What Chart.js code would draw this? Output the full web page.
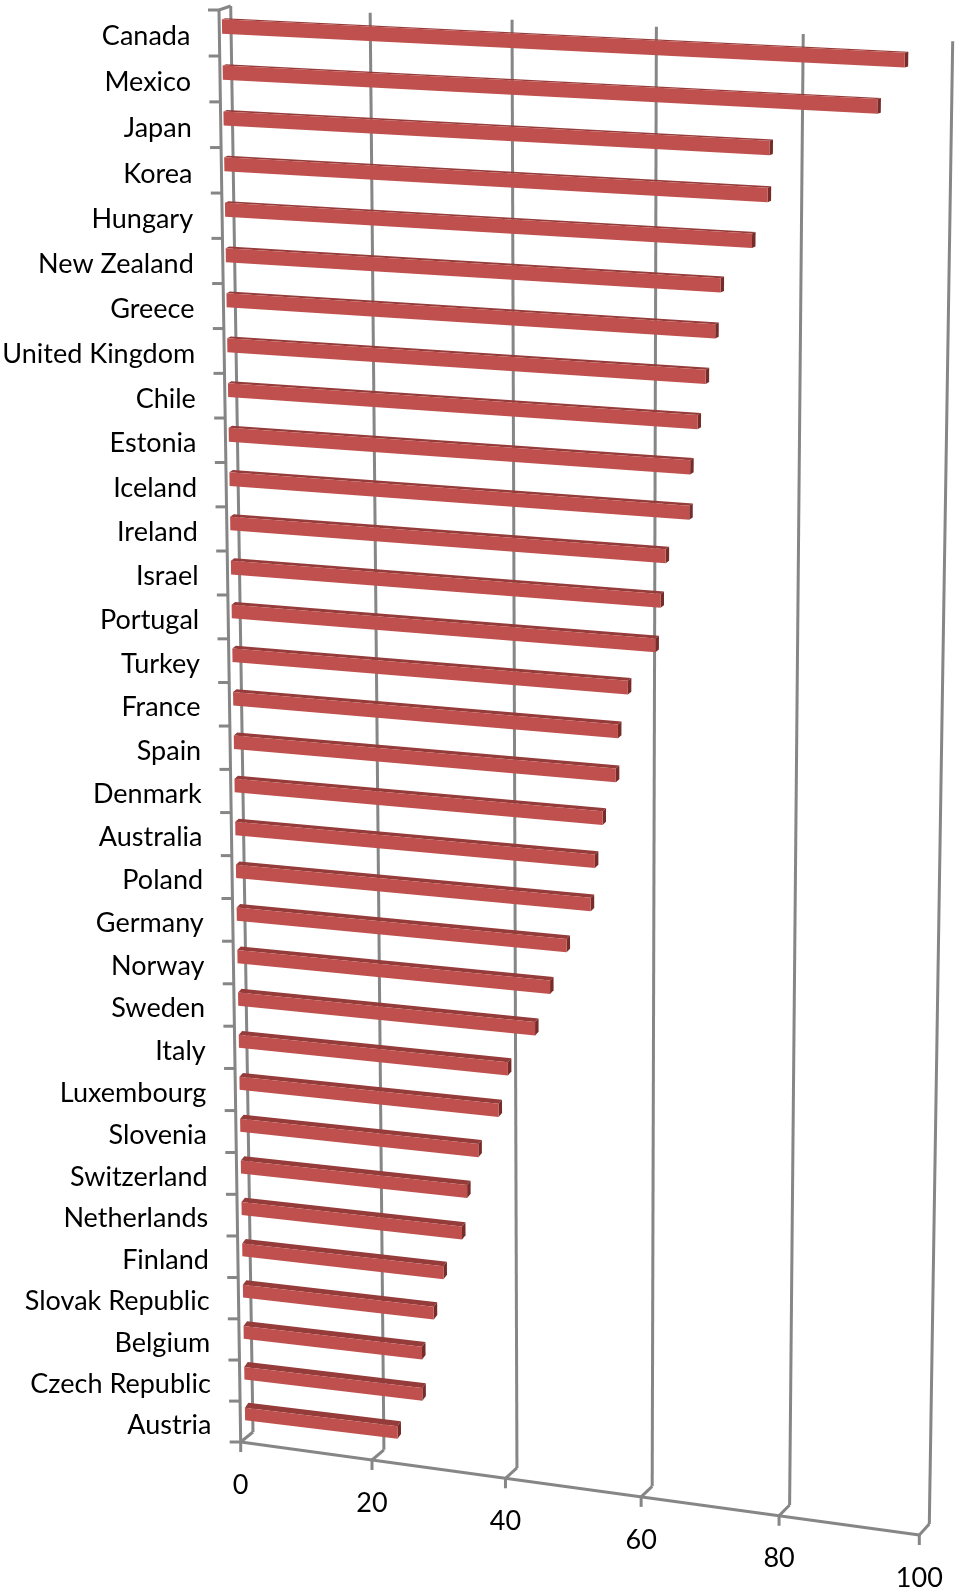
<!DOCTYPE html>
<html>
<head>
<meta charset="utf-8">
<title>Bar chart</title>
<script src="https://cdn.jsdelivr.net/npm/chart.js@4"></script>
<style>
  html, body { margin: 0; padding: 0; background: #fff; }
  canvas { display: block; }
</style>
</head>
<body>
<canvas id="chart" width="960" height="1592"></canvas>
<script>
const countries = ["Canada", "Mexico", "Japan", "Korea", "Hungary", "New Zealand", "Greece", "United Kingdom",
  "Chile", "Estonia", "Iceland", "Ireland", "Israel", "Portugal", "Turkey", "France", "Spain", "Denmark",
  "Australia", "Poland", "Germany", "Norway", "Sweden", "Italy", "Luxembourg", "Slovenia", "Switzerland",
  "Netherlands", "Finland", "Slovak Republic", "Belgium", "Czech Republic", "Austria"];
const values = [95, 91.4, 76.8, 76.6, 74.5, 70.2, 69.5, 68.2, 67.1, 66.1, 66, 62.7, 62, 61.3, 57.4, 56, 55.7,
  53.8, 52.7, 52.1, 48.6, 46.2, 44, 40, 38.6, 35.6, 33.9, 33.1, 30.3, 28.8, 27, 27, 23.2];
const axisMin = 0;
const axisMax = 100;
const axisStep = 20;

// the picture is a tilted 3D chart, so scale pixels go through plane projections
// corners: top-left, top-right, bottom-right, bottom-left
const frontQuad = [[219, 10], [941, 45], [919.3, 1535], [240.7, 1442]];
const wallQuad = [[230.7, 6], [952.7, 41.3], [929.3, 1524], [253, 1432]];
// bar plane is measured at first and last bar centre, not at the chart edges
const barQuad = [[222, 26.5], [942, 62], [920, 1496], [245, 1414]];

function quadMap(q) {
  const [[x0, y0], [x1, y1], [x2, y2], [x3, y3]] = q;
  const sx = x0 - x1 + x2 - x3, sy = y0 - y1 + y2 - y3;
  const dx1 = x1 - x2, dx2 = x3 - x2, dy1 = y1 - y2, dy2 = y3 - y2;
  const den = dx1 * dy2 - dx2 * dy1;
  const g = (sx * dy2 - dx2 * sy) / den, h = (dx1 * sy - sx * dy1) / den;
  const a = x1 - x0 + g * x1, b = x3 - x0 + h * x3;
  const d = y1 - y0 + g * y1, e = y3 - y0 + h * y3;
  return (u, v) => {
    const w = g * u + h * v + 1;
    return [(a * u + b * v + x0) / w, (d * u + e * v + y0) / w];
  };
}

const front = quadMap(frontQuad);
const wall = quadMap(wallQuad);
const barPlane = quadMap(barQuad);

function line(ctx, a, b) {
  ctx.beginPath();
  ctx.moveTo(a[0], a[1]);
  ctx.lineTo(b[0], b[1]);
  ctx.stroke();
}

function poly(ctx, pts, color) {
  ctx.fillStyle = color;
  ctx.beginPath();
  pts.forEach((p, i) => i ? ctx.lineTo(p[0], p[1]) : ctx.moveTo(p[0], p[1]));
  ctx.closePath();
  ctx.fill();
}

const perspective3d = {
  id: "perspective3d",
  beforeDatasetsDraw(chart) {
    const { ctx, chartArea: area, scales } = chart;
    const xs = scales.x, ys = scales.y;
    const U = (px) => (px - area.left) / area.width;
    const W = (py) => (py - area.top) / area.height;
    const w0 = W(ys.getPixelForValue(0));
    const w1 = W(ys.getPixelForValue(countries.length - 1));
    const V = (py) => (W(py) - w0) / (w1 - w0);

    ctx.save();
    ctx.strokeStyle = "#868686";
    ctx.lineWidth = 3;
    ctx.lineCap = "butt";
    ctx.lineJoin = "miter";

    // vertical gridlines on the back wall, floor connector, tick under the axis
    xs.ticks.forEach((t) => {
      const u = U(xs.getPixelForValue(t.value));
      const foot = front(u, 1);
      line(ctx, wall(u, 0), wall(u, 1));
      line(ctx, wall(u, 1), foot);
      line(ctx, foot, [foot[0], foot[1] + 10]);
    });
    line(ctx, front(0, 0), wall(0, 0));
    line(ctx, front(0, 0), front(0, 1));
    line(ctx, front(0, 1), front(1, 1));

    // category ticks sit on the band edges
    for (let k = 0; k <= countries.length; k++) {
      const p = front(0, k / countries.length);
      line(ctx, [p[0] - 11, p[1]], p);
    }

    // bars: front, top and end faces
    const bars = chart.getDatasetMeta(0).data;
    bars.forEach((bar) => {
      const top = V(bar.y - bar.height / 2);
      const bot = V(bar.y + bar.height / 2);
      const uBase = U(bar.base), uEnd = U(bar.x);
      const a = barPlane(uBase, top), b = barPlane(uEnd, top);
      const c = barPlane(uEnd, bot), d = barPlane(uBase, bot);
      const depth = (p) => [p[0] + 3.5, p[1] - (1 + 4 * W(bar.y))];
      poly(ctx, [a, b, depth(b), depth(a)], "#953B39");
      poly(ctx, [b, c, depth(c), depth(b)], "#772C2A");
      poly(ctx, [a, b, c, d], "#C0504D");
    });
    ctx.restore();

    // tick labels come from the scales
    ctx.save();
    ctx.fillStyle = "#000000";
    ctx.font = "27px Lato";
    ctx.textAlign = "right";
    ctx.textBaseline = "middle";
    ys.ticks.forEach((t, i) => {
      const p = front(0, W(ys.getPixelForValue(i)));
      ctx.fillText(t.label, p[0] - 29, p[1] + 3.5);
    });
    ctx.textAlign = "center";
    xs.ticks.forEach((t) => {
      const p = front(U(xs.getPixelForValue(t.value)), 1);
      ctx.fillText(t.label, p[0], p[1] + 43);
    });
    ctx.restore();
    return false;
  }
};

new Chart(document.getElementById("chart"), {
  type: "bar",
  data: {
    labels: countries,
    datasets: [{ data: values, backgroundColor: "#C0504D", barPercentage: 0.31, categoryPercentage: 1 }]
  },
  options: {
    indexAxis: "y",
    responsive: false,
    animation: false,
    layout: { padding: 0 },
    plugins: { legend: { display: false }, tooltip: { enabled: false }, title: { display: false } },
    scales: {
      x: {
        min: axisMin, max: axisMax,
        ticks: { stepSize: axisStep, display: false },
        grid: { display: false }, border: { display: false }
      },
      y: {
        ticks: { display: false, autoSkip: false },
        grid: { display: false }, border: { display: false }
      }
    }
  },
  plugins: [perspective3d]
});
</script>
</body>
</html>
